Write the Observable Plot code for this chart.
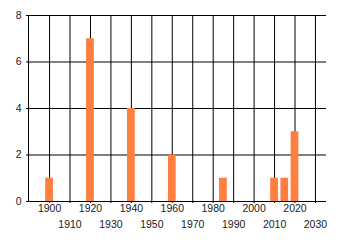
<!DOCTYPE html>
<html><head><meta charset="utf-8">
<script src="https://cdn.jsdelivr.net/npm/d3@7"></script>
<script src="https://cdn.jsdelivr.net/npm/@observablehq/plot@0.6"></script>
<style>body{margin:0;background:#fff}</style>
</head><body><div id="chart"></div>
<script>
const years = [1900, 1920, 1940, 1960, 1985, 2010, 2015, 2020];
const counts = [1, 7, 4, 2, 1, 1, 1, 3];
const tickYears = [1900, 1910, 1920, 1930, 1940, 1950, 1960, 1970, 1980, 1990, 2000, 2010, 2020, 2030];
const yTicks = [0, 2, 4, 6, 8];
const data = years.map((y, i) => ({year: y, count: counts[i]}));
const halfWidth = 1.9;
const upper = tickYears.filter((d, i) => i % 2 === 0);
const lower = tickYears.filter((d, i) => i % 2 === 1);
const font = "Liberation Sans, Arial, sans-serif";
const chart = Plot.plot({
  width: 340, height: 245,
  marginLeft: 28, marginRight: 14, marginTop: 15, marginBottom: 44,
  x: {domain: [1889.7, 2035.4], axis: null},
  y: {domain: [0, 8], axis: null},
  style: {fontFamily: font, fontSize: "10.5px", background: "#fff"},
  marks: [
    Plot.ruleX(tickYears, {x: d => d, stroke: "#000", insetBottom: -2}),
    Plot.ruleY(yTicks, {y: d => d, stroke: "#000", insetLeft: -2}),
    Plot.frame({anchor: "left", stroke: "#000"}),
    Plot.rectY(data, {x1: d => d.year - halfWidth, x2: d => d.year + halfWidth, y1: 0, y2: "count", fill: "#ff7f40"}),
    Plot.text(upper, {x: d => d, frameAnchor: "bottom", dy: 10, text: d => String(d), fill: "#1a1a1a", fontSize: 10.5}),
    Plot.text(lower, {x: d => d, frameAnchor: "bottom", dy: 26, text: d => String(d), fill: "#1a1a1a", fontSize: 10.5}),
    Plot.text(yTicks, {y: d => d, frameAnchor: "left", dx: -7, textAnchor: "end", text: d => String(d), fill: "#1a1a1a", fontSize: 10.5})
  ]
});
document.getElementById("chart").appendChild(chart);
</script>
</body></html>
